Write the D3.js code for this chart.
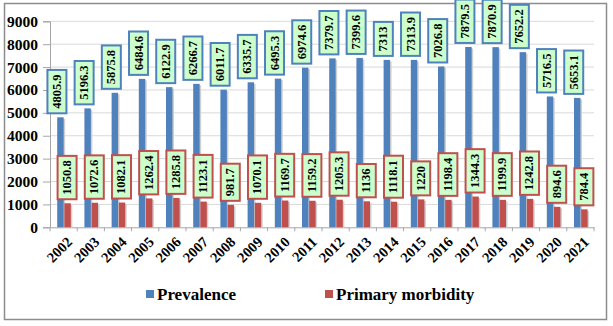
<!DOCTYPE html>
<html><head><meta charset="utf-8">
<script src="https://cdn.jsdelivr.net/npm/d3@7"></script>
<style>
html,body{margin:0;padding:0;background:#fff;}
svg{display:block;}
</style></head>
<body>
<svg id="chart" width="613" height="326"></svg>
<script>
const years = ["2002","2003","2004","2005","2006","2007","2008","2009","2010","2011","2012","2013","2014","2015","2016","2017","2018","2019","2020","2021"];
const prevalence = [4805.9,5196.3,5875.8,6484.6,6122.9,6266.7,6011.7,6335.7,6495.3,6974.6,7379.7,7399.6,7313,7313.9,7026.8,7879.5,7870.9,7652.2,5716.5,5653.1];
const primary = [1050.8,1072.6,1082.1,1262.4,1285.8,1123.1,981.7,1070.1,1169.7,1159.2,1205.3,1136,1118.1,1220,1198.4,1344.3,1199.9,1242.8,894.6,784.4];
const seriesNames = ["Prevalence","Primary morbidity"];
const yTicks = [0,1000,2000,3000,4000,5000,6000,7000,8000,9000];

const FONT = "'Liberation Serif', 'DejaVu Serif', serif";
const colors = {"Prevalence":"#4f81bd","Primary morbidity":"#c0504d"};
const svg = d3.select("#chart");

// outer border
svg.append("rect").attr("x",4.5).attr("y",3.5).attr("width",602).attr("height",316)
  .attr("fill","#fff").attr("stroke","#8c8c8c").attr("stroke-width",1.5);

const pLeft = 50, pRight = 594, pTop = 21.3, pBottom = 227.3;
const x0 = d3.scaleBand().domain(years).range([pLeft,pRight]);
const bw = x0.bandwidth();
const x1 = d3.scaleBand().domain(seriesNames).range([bw*0.265, bw*0.765]).paddingInner(0.1);
const y = d3.scaleLinear().domain([0,9000]).range([pBottom, pTop]);

// gridlines
svg.append("g").selectAll("line").data(yTicks.filter(d=>d>0)).join("line")
  .attr("x1",pLeft).attr("x2",pRight).attr("y1",d=>y(d)).attr("y2",d=>y(d))
  .attr("stroke","#d9d9d9").attr("stroke-width",1);

// y axis
const yAxis = d3.axisLeft(y).tickValues(yTicks).tickSize(7).tickPadding(5).tickFormat(d3.format("d"));
const gy = svg.append("g").attr("transform",`translate(${pLeft},0)`).call(yAxis)
  .attr("font-family",FONT).attr("font-weight","bold").attr("font-size",15);
gy.select(".domain").attr("stroke","#a6a6a6");
gy.selectAll(".tick line").attr("stroke","#a6a6a6");
gy.selectAll(".tick text").attr("fill","#000").style("font-family",FONT).style("font-weight","bold").style("font-size","15.5px");

// x axis
const xAxis = d3.axisBottom(x0).tickSize(0).tickFormat("");
const gx = svg.append("g").attr("transform",`translate(0,${pBottom})`).call(xAxis);
gx.select(".domain").attr("stroke","#a6a6a6");
svg.append("g").selectAll("line").data(years.concat(["end"])).join("line")
  .attr("x1",(d,i)=>pLeft+i*bw).attr("x2",(d,i)=>pLeft+i*bw)
  .attr("y1",pBottom).attr("y2",pBottom+4).attr("stroke","#a6a6a6");

svg.append("g").selectAll("text").data(years).join("text")
  .attr("text-anchor","end")
  .attr("transform",d=>`translate(${x0(d)+bw/2+6},${pBottom+12}) rotate(-45)`)
  .attr("dy","0.35em")
  .style("font-family",FONT).style("font-weight","bold")
  .style("font-size","14.5px").text(d=>d);

// bars
const rows = years.map((yr,i)=>({year:yr, vals:[{s:"Prevalence",v:prevalence[i]},{s:"Primary morbidity",v:primary[i]}]}));
const g = svg.append("g").selectAll("g").data(rows).join("g")
  .attr("transform",d=>`translate(${x0(d.year)},0)`);

// shadow
g.selectAll("rect.sh").data(d=>d.vals).join("rect").attr("class","sh")
  .attr("x",d=>x1(d.s)+1.5).attr("y",d=>y(d.v)+1.5)
  .attr("width",x1.bandwidth()).attr("height",d=>pBottom-y(d.v)-1.5)
  .attr("fill","#cfcfcf");
g.selectAll("rect.bar").data(d=>d.vals).join("rect").attr("class","bar")
  .attr("x",d=>x1(d.s)).attr("y",d=>y(d.v))
  .attr("width",x1.bandwidth()).attr("height",d=>pBottom-y(d.v))
  .attr("fill",d=>colors[d.s]);

// labels
const fmt = v => String(v);
g.each(function(d){
  const gg = d3.select(this);
  d.vals.forEach(o=>{
    const lab = gg.append("g");
    const t = lab.append("text")
      .style("font-family",FONT).style("font-weight","bold").style("font-size","12.5px")
      .attr("text-anchor","middle")
      .attr("dominant-baseline","central").text(fmt(o.v));
    const len = t.node().getComputedTextLength();
    const h = len + 9, w = 19;
    const cx = x1(o.s) + x1.bandwidth()/2 + (o.s==="Prevalence" ? -3.5 : -0.5);
    const bBottom = y(o.v) - 4;
    const cy = bBottom - h/2;
    lab.insert("rect","text").attr("x",cx-w/2).attr("y",bBottom-h).attr("width",w).attr("height",h)
      .attr("fill","#ccffcc").attr("stroke",colors[o.s]).attr("stroke-width",2);
    t.attr("transform",`translate(${cx},${cy}) rotate(-90)`);
  });
});

// legend
const legX = [146, 325];
const leg = svg.append("g").selectAll("g").data(seriesNames).join("g")
  .attr("transform",(d,i)=>`translate(${legX[i]},0)`);
leg.append("rect").attr("x",0).attr("y",290).attr("width",8).attr("height",8).attr("fill",d=>colors[d]);
leg.append("text").attr("x",11).attr("y",299.5)
  .style("font-family",FONT).style("font-weight","bold")
  .style("font-size","17px").text(d=>d);
</script>
</body></html>
